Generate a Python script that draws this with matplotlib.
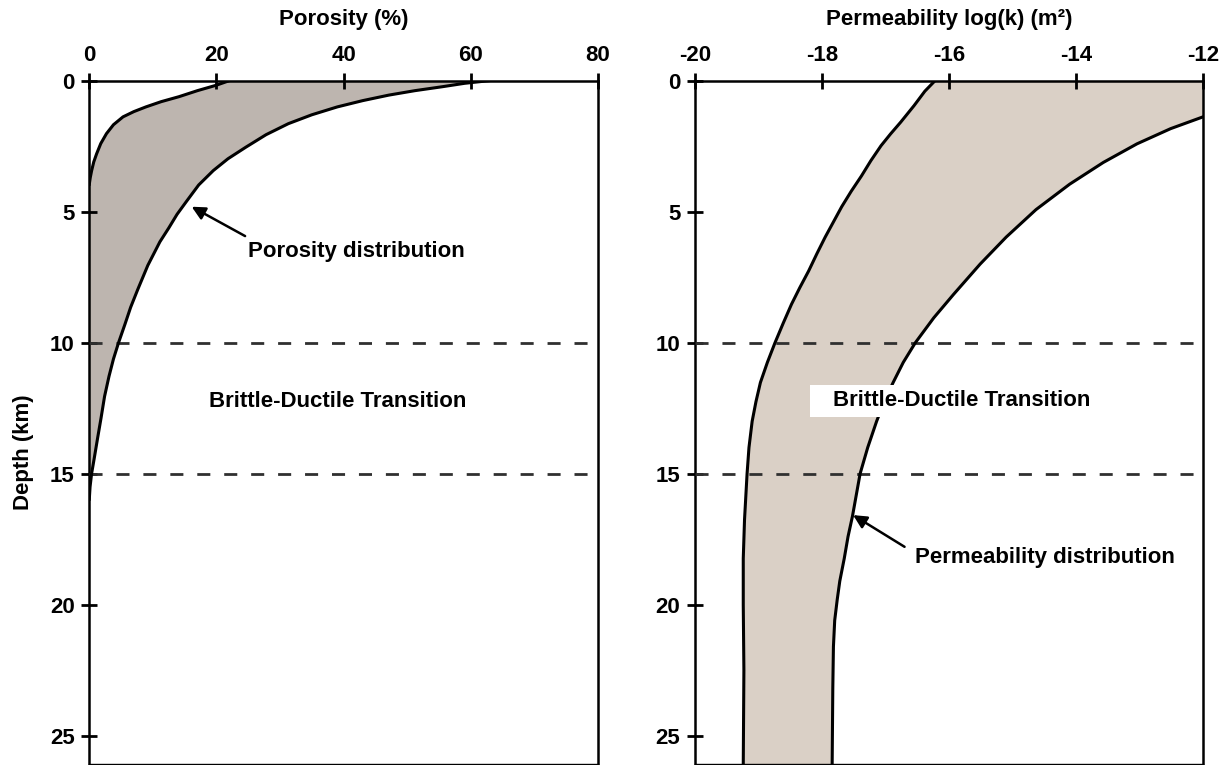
import matplotlib.pyplot as plt
from matplotlib.patches import Rectangle

plt.rcParams['font.family'] = ['Liberation Sans', 'DejaVu Sans']
plt.rcParams['font.weight'] = 'bold'

# porosity envelope (%), depth in km
por_in_x = [22.0, 20.0, 17.0, 14.1, 11.3, 8.9, 7.0, 5.3, 3.8, 2.7, 1.8, 1.15, 0.7, 0.37, 0.15, 0.0]
por_in_z = [0.0, 0.17, 0.38, 0.61, 0.8, 1.0, 1.18, 1.38, 1.68, 2.02, 2.4, 2.79, 3.1, 3.43, 3.7, 3.95]
por_out_x = [62.8, 59.0, 55.5, 51.2, 47.1, 43.0, 39.0, 35.0, 31.3, 27.8, 24.6, 21.8, 19.5, 17.2, 15.3,
             13.8, 12.5, 11.1, 9.2, 7.6, 6.5, 5.6, 4.6, 3.8, 3.1, 2.4, 1.85, 1.3, 0.75, 0.36, 0.12, 0.0]
por_out_z = [0.0, 0.1, 0.23, 0.38, 0.55, 0.76, 1.0, 1.3, 1.64, 2.06, 2.54, 2.98, 3.43, 3.98, 4.6,
             5.1, 5.62, 6.15, 7.05, 7.98, 8.65, 9.3, 10.0, 10.62, 11.28, 12.05, 12.87, 13.65, 14.45, 15.0, 15.5, 15.97]

# permeability envelope, log10(k)
perm_lo_x = [-16.22, -16.38, -16.55, -16.76, -16.92, -17.07, -17.23, -17.38, -17.54, -17.69, -17.82,
             -17.95, -18.08, -18.21, -18.35, -18.48, -18.61, -18.74, -18.86,
             -18.97, -19.04, -19.1, -19.15, -19.18, -19.22, -19.24, -19.24, -19.23, -19.24]
perm_lo_z = [0.0, 0.4, 0.95, 1.58, 2.03, 2.48, 3.05, 3.64, 4.22, 4.81, 5.39,
             5.97, 6.6, 7.26, 7.9, 8.53, 9.25, 10.0, 10.75,
             11.52, 12.25, 13.0, 14.0, 15.0, 16.75, 18.24, 20.0, 22.5, 26.1]
perm_hi_x = [-12.0, -12.51, -13.04, -13.57, -14.1, -14.63, -15.1, -15.51, -15.93, -16.24, -16.53,
             -16.72, -16.88, -17.02, -17.14, -17.28, -17.4, -17.52, -17.59, -17.65, -17.72,
             -17.76, -17.8, -17.82, -17.83, -17.84]
perm_hi_z = [1.38, 1.83, 2.41, 3.12, 3.95, 4.92, 5.97, 7.0, 8.16, 9.05, 10.0,
             10.75, 11.52, 12.25, 13.0, 14.0, 15.0, 16.62, 17.4, 18.24, 19.1,
             19.8, 20.6, 21.6, 23.2, 26.1]

bdt_depths = [10, 15]
depth_ticks = [0, 5, 10, 15, 20, 25]
por_ticks = [0, 20, 40, 60, 80]
perm_ticks = [-20, -18, -16, -14, -12]

FS = 16

fig = plt.figure(figsize=(12.29, 7.65), dpi=100)
ax1 = fig.add_axes([89.3 / 1229, 0.0013, 508.7 / 1229, 0.8932])
ax2 = fig.add_axes([695 / 1229, 0.0013, 508.0 / 1229, 0.8932])


def style(ax, xticks, xlim):
    ax.set_xlim(xlim)
    ax.set_ylim(26.08, 0)
    ax.xaxis.tick_top()
    ax.set_xticks(xticks)
    ax.set_xticklabels([str(t) for t in xticks])
    ax.set_yticks(depth_ticks)
    ax.tick_params(direction='inout', length=11, width=2, labelsize=FS, pad=5)
    for s in ['top', 'left', 'right']:
        ax.spines[s].set_linewidth(1.8)
    ax.spines['bottom'].set_linewidth(1.0)
    for lab in ax.get_xticklabels() + ax.get_yticklabels():
        lab.set_fontweight('bold')
    for d in bdt_depths:
        ax.axhline(d, color='#303030', lw=2.0, dashes=(4.7, 5.0), zorder=3)


# porosity panel: shaded band between the two curves and the depth axis
fx = por_out_x + [0.0] + por_in_x[::-1]
fz = por_out_z + [por_in_z[-1]] + por_in_z[::-1]
ax1.fill(fx, fz, color='#bdb5af', lw=0, zorder=1)
ax1.plot(por_in_x, por_in_z, color='black', lw=2.2, zorder=4, solid_joinstyle='round')
ax1.plot(por_out_x, por_out_z, color='black', lw=2.2, zorder=4, solid_joinstyle='round')
style(ax1, por_ticks, (0, 80))
ax1.text(39.0, 12.24, 'Brittle-Ductile Transition', ha='center', va='center',
         fontsize=FS, fontweight='bold')
ax1.text(24.9, 6.5, 'Porosity distribution', ha='left', va='center',
         fontsize=FS, fontweight='bold')
ax1.annotate('', xy=(16.1, 4.81), xytext=(24.5, 5.93),
             arrowprops=dict(arrowstyle='-|>', color='black', lw=1.8,
                             mutation_scale=20, shrinkA=0, shrinkB=0))

# permeability panel
px = perm_lo_x + perm_hi_x[::-1] + [-12.0]
pz = perm_lo_z + perm_hi_z[::-1] + [0.0]
ax2.fill(px, pz, color='#dad0c6', lw=0, zorder=1)
ax2.plot(perm_lo_x, perm_lo_z, color='black', lw=2.2, zorder=4, solid_joinstyle='round')
ax2.plot(perm_hi_x, perm_hi_z, color='black', lw=2.2, zorder=4, solid_joinstyle='round')
style(ax2, perm_ticks, (-20, -12))
ax2.add_patch(Rectangle((-18.19, 11.61), 4.6, 1.21, facecolor='white',
                        edgecolor='none', zorder=5))
ax2.text(-17.82, 12.22, 'Brittle-Ductile Transition', ha='left', va='center',
         fontsize=FS, fontweight='bold', zorder=6)
ax2.text(-16.54, 18.18, 'Permeability distribution', ha='left', va='center',
         fontsize=FS, fontweight='bold')
ax2.annotate('', xy=(-17.51, 16.58), xytext=(-16.70, 17.79),
             arrowprops=dict(arrowstyle='-|>', color='black', lw=1.8,
                             mutation_scale=20, shrinkA=0, shrinkB=0))

# axis titles
fig.text((89.3 + 598) / 2 / 1229, 1 - 20 / 765, 'Porosity (%)', ha='center', va='center',
         fontsize=FS, fontweight='bold')
fig.text((695 + 1203) / 2 / 1229, 1 - 20 / 765, 'Permeability log(k) (m²)',
         ha='center', va='center', fontsize=FS, fontweight='bold')
fig.text(24 / 1229, 1 - 452 / 765, 'Depth (km)', rotation=90, ha='center', va='center',
         fontsize=FS, fontweight='bold')

fig.savefig('out.png', dpi=100)
